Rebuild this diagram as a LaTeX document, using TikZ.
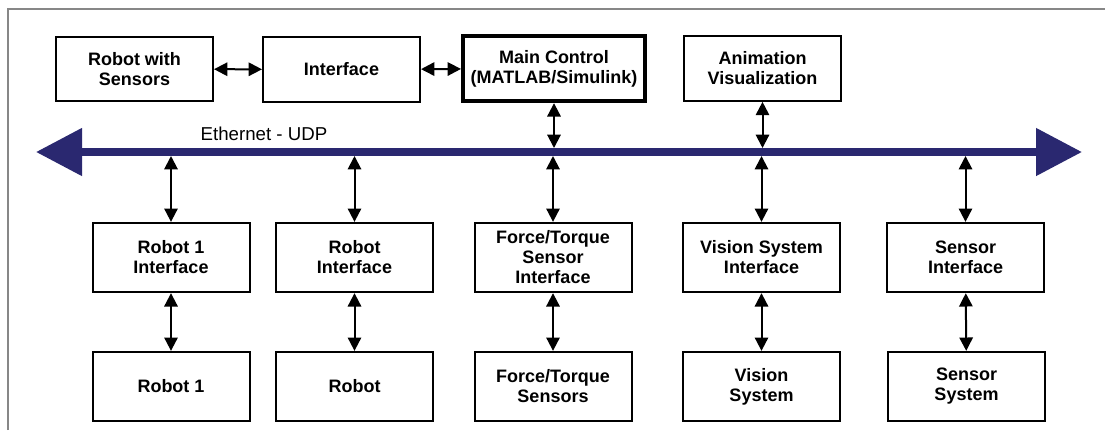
\documentclass[tikz,border=0pt]{standalone}
\usepackage{fontspec}
\setmainfont{Liberation Sans}
\usepackage{tikz}
\usetikzlibrary{arrows.meta}
\definecolor{busblue}{RGB}{42,40,112}
\definecolor{framegray}{RGB}{135,135,135}
\tikzset{
	block/.style={draw, line width=1.5pt, minimum width=117.75pt, minimum height=48.5pt, inner sep=1pt, align=center, font=\bfseries\fontsize{13.5}{15}\selectfont},
	lowblock/.style={block, minimum height=52pt},
	mainblock/.style={block, line width=3pt, minimum width=136.5pt, minimum height=49pt},
	link/.style={{Triangle[length=10pt,width=10pt]}-{Triangle[length=10pt,width=10pt]}, line width=1.5pt},
	bus/.style={{Triangle[length=34.5pt,width=34.5pt]}-{Triangle[length=34.5pt,width=34.5pt]}, line width=6pt, busblue}
}

\begin{document}
\begin{tikzpicture}[x=0.75pt,y=-0.75pt]
		\useasboundingbox (0,0) rectangle (1105,430);
		\draw[framegray, line width=1.5pt] (8,430) -- (8,9) -- (1105,9);

		\node[block] (rws) at (134.5,69) {Robot with\\Sensors};
		\node[block] (intf) at (341.5,69.5) {Interface};
		\node[mainblock] (main) at (554,68.5) {Main Control\\(MATLAB/Simulink)};
		\node[block] (anim) at (762.5,68.5) {Animation\\Visualization};

		\coordinate (busL) at (36,152);
		\coordinate (busR) at (1082,152);
		\draw[bus] (busL) -- (busR);
		\node[font=\fontsize{14}{16}\selectfont] (eth) at (264,134) {Ethernet - UDP};

		\node[lowblock] (ri1) at (171,257.5) {Robot 1\\Interface};
		\node[lowblock] (ri) at (354.5,257.5) {Robot\\Interface};
		\node[lowblock] (fti) at (553,257.5) {Force/Torque\\Sensor\\Interface};
		\node[lowblock] (vsi) at (761.5,257.5) {Vision System\\Interface};
		\node[lowblock] (si) at (965.5,257.5) {Sensor\\Interface};

		\node[lowblock] (r1) at (171,386.5) {Robot 1};
		\node[lowblock] (r) at (354.5,386.5) {Robot};
		\node[lowblock] (fts) at (553,386.5) {Force/Torque\\Sensors};
		\node[lowblock] (vs) at (761.5,386.5) {Vision\\System};
		\node[lowblock] (ss) at (966.5,386.5) {Sensor\\System};

		\draw[link] (rws) -- (intf);
		\draw[link] (intf) -- (main);
		\draw[link, shorten >=3pt] (main.south) -- (main.south |- busL);
		\draw[link, shorten >=3pt] (anim.south) -- (anim.south |- busL);

		\draw[link, shorten <=3pt] (ri1.north |- busL) -- (ri1.north);
		\draw[link, shorten <=3pt] (ri.north |- busL) -- (ri.north);
		\draw[link, shorten <=3pt] (fti.north |- busL) -- (fti.north);
		\draw[link, shorten <=3pt] (vsi.north |- busL) -- (vsi.north);
		\draw[link, shorten <=3pt] (si.north |- busL) -- (si.north);

		\draw[link] (ri1) -- (r1);
		\draw[link] (ri) -- (r);
		\draw[link] (fti) -- (fts);
		\draw[link] (vsi) -- (vs);
		\draw[link] (si) -- (ss);
\end{tikzpicture}
\end{document}
